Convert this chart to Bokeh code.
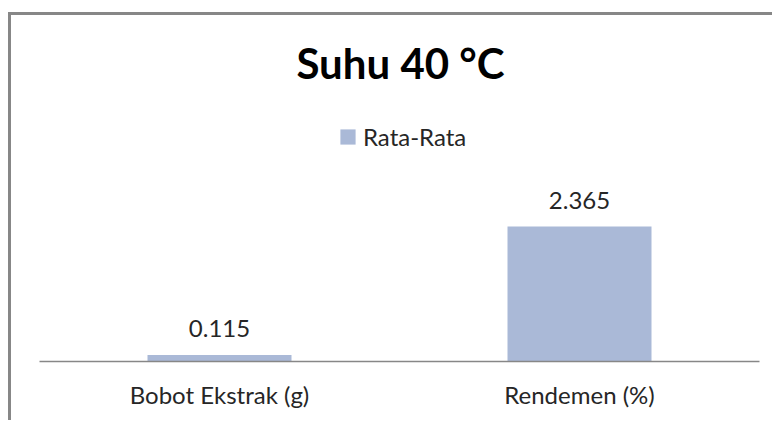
from bokeh.plotting import figure
from bokeh.models import ColumnDataSource, Range1d, FactorRange, LabelSet, Label, Legend, LegendItem
from bokeh.core.properties import value
from bokeh.embed import file_html
from bokeh.resources import INLINE

categories = ["Bobot Ekstrak (g)", "Rendemen (%)"]
values = [0.115, 2.365]
labels = ["0.115", "2.365"]
series_name = "Rata-Rata"
title_text = "Suhu 40 °C"

FONT = "Lato"
BAR = "#AAB9D7"
GREY = "#878787"

src = ColumnDataSource(dict(cat=categories, val=values, lab=labels))

line = f"linear-gradient({GREY}, {GREY})"
p = figure(width=764, height=420, output_backend="svg", toolbar_location=None,
           x_range=FactorRange(*categories), y_range=Range1d(0, 5.974),
           min_border_left=31, min_border_right=13, min_border_bottom=59, min_border_top=20,
           styles={"margin-left": "8px",
                   "background-image": f"{line}, {line}",
                   "background-size": "100% 3px, 3px 100%",
                   "background-position": "0 12px, 0 12px",
                   "background-repeat": "no-repeat"})
p.border_fill_color = None
p.background_fill_color = None

# chart title, placed in screen units relative to the plot frame
p.add_layout(Label(text=title_text, x=361, y=299, x_units="screen", y_units="screen",
                   text_align="center", text_baseline="alphabetic", text_font=FONT,
                   text_font_size="42px", text_font_style="bold", text_color="#000000"))

r = p.vbar(x="cat", top="val", width=0.4, source=src, fill_color=BAR, line_color=None)

p.add_layout(LabelSet(x="cat", y="val", text="lab", source=src, text_align="center",
                      text_baseline="alphabetic", y_offset=18, text_font=value(FONT),
                      text_font_size=value("24px"), text_color="#262626"))

legend = Legend(items=[LegendItem(label=series_name, renderers=[r])], location=(299, 210),
                orientation="horizontal", margin=0, padding=0, glyph_width=19, glyph_height=19,
                label_standoff=6, label_text_font=FONT, label_text_font_size="24px",
                label_text_color="#262626", border_line_color=None, background_fill_alpha=0)
p.add_layout(legend)

p.xaxis.axis_line_color = GREY
p.xaxis.axis_line_width = 1.5
p.xaxis.major_tick_line_color = None
p.xaxis.minor_tick_line_color = None
p.xaxis.major_label_standoff = 12
p.xaxis.major_label_text_font = FONT
p.xaxis.major_label_text_font_size = "24px"
p.xaxis.major_label_text_color = "#262626"
p.yaxis.visible = False
p.xgrid.visible = False
p.ygrid.visible = False
p.outline_line_color = None

open("out.html", "w").write(file_html(p, INLINE))
